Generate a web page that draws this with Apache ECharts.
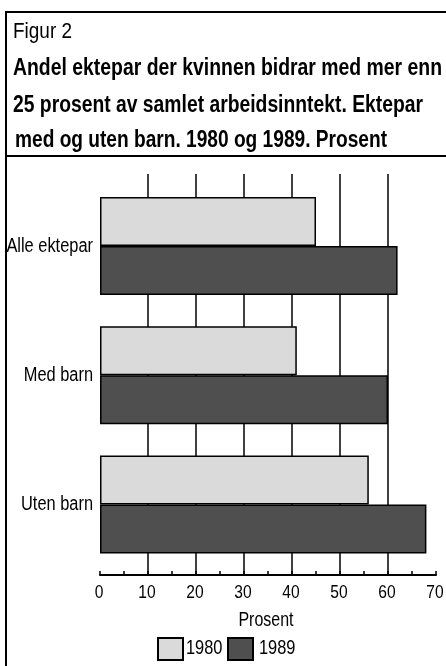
<!DOCTYPE html>
<head>
    <meta charset="utf-8">
    <title>Figur 2</title>
    <script src="https://cdn.jsdelivr.net/npm/echarts@6/dist/echarts.min.js"></script>
    <style>
        body { margin: 0; background: #fff; }
    </style>
</head>
<body>
    <div id="main" style="width: 446px;height:666px"></div>
    <script type="text/javascript">
        var categories = ['Alle ektepar', 'Med barn', 'Uten barn'];
        var years = ['1980', '1989'];
        var values1980 = [45, 41, 56];
        var values1989 = [62, 60, 68];
        var xTicks = [0, 10, 20, 30, 40, 50, 60, 70];

        // no narrow font installed, so texts are squeezed horizontally
        var font = '"Liberation Sans", Arial, sans-serif';
        var narrow = 0.82;
        var titleLines = [
            'Andel ektepar der kvinnen bidrar med mer enn',
            '25 prosent av samlet arbeidsinntekt. Ektepar',
            'med og uten barn. 1980 og 1989. Prosent'
        ];
        // x, y, target width of every title line
        var lineBox = [[13, 69, 429], [13, 106, 410], [15, 141, 372]];

        var ctx = document.createElement('canvas').getContext('2d');
        function fitScale(txt, f, w) {
            ctx.font = f;
            return w / ctx.measureText(txt).width;
        }
        function label(txt, x, y, size, align, sx) {
            var f = size + 'px ' + font;
            return {
                type: 'text', x: x, y: y, scaleX: sx || narrow,
                style: { text: txt, font: f, fill: '#000', textAlign: align, align: align,
                         textVerticalAlign: 'middle', verticalAlign: 'middle' }
            };
        }

        var myChart = echarts.init(document.getElementById('main'));
        var option = {
            backgroundColor: '#fff',
            animation: false,
            textStyle: { fontFamily: font, color: '#000' },
            legend: {
                data: years,
                left: 157,
                top: 637,
                padding: 0,
                icon: 'rect',
                itemWidth: 25,
                itemHeight: 22,
                itemGap: 43,
                formatter: function () { return ''; },
                textStyle: { fontSize: 1, padding: 0 }
            },
            grid: [
                { left: 100, right: 10, top: 174, bottom: 91, outerBoundsMode: 'none', containLabel: false },
                { left: 100, right: 10, top: 181.5, bottom: 97, outerBoundsMode: 'none', containLabel: false }
            ],
            xAxis: [
                {
                    gridIndex: 0,
                    type: 'value',
                    min: 0, max: 70, interval: 10,
                    axisLine: { show: true, lineStyle: { color: '#000', width: 2 } },
                    axisTick: { show: true, inside: true, length: 4, lineStyle: { color: '#000', width: 1.5 } },
                    minorTick: { show: true, splitNumber: 2, length: 4, lineStyle: { color: '#000', width: 1.5 } },
                    axisLabel: { show: false },
                    splitLine: { show: true, showMinLine: false, showMaxLine: false, lineStyle: { color: '#000', width: 1.5 } }
                },
                {
                    gridIndex: 1,
                    type: 'value',
                    min: 0, max: 70,
                    show: false,
                    splitLine: { show: false }
                }
            ],
            yAxis: [
                { gridIndex: 0, type: 'category', data: categories, show: false },
                {
                    gridIndex: 1,
                    type: 'category',
                    data: categories,
                    inverse: true,
                    axisLine: { show: false },
                    axisTick: { show: false },
                    axisLabel: { show: false }
                }
            ],
            series: [
                {
                    name: '1980',
                    type: 'bar',
                    xAxisIndex: 1,
                    yAxisIndex: 1,
                    barWidth: 49,
                    barGap: '0%',
                    itemStyle: { color: '#dadada', borderColor: '#000', borderWidth: 1.5 },
                    data: values1980
                },
                {
                    name: '1989',
                    type: 'bar',
                    xAxisIndex: 1,
                    yAxisIndex: 1,
                    barWidth: 49,
                    barGap: '0%',
                    itemStyle: { color: '#4f4f4f', borderColor: '#000', borderWidth: 1.5 },
                    data: values1989
                }
            ]
        };
        myChart.setOption(option);

        // frame, title and axis texts
        var graphics = [
            { type: 'line', shape: { x1: 6, y1: 12, x2: 6, y2: 666 }, style: { stroke: '#000', lineWidth: 2 } },
            { type: 'line', shape: { x1: 5, y1: 12, x2: 446, y2: 12 }, style: { stroke: '#000', lineWidth: 2 } },
            { type: 'line', shape: { x1: 5, y1: 156, x2: 446, y2: 156 }, style: { stroke: '#000', lineWidth: 2 } },
            label('Figur 2', 13, 32, 22, 'left', fitScale('Figur 2', '22px ' + font, 59))
        ];
        for (var i = 0; i < titleLines.length; i++) {
            var f = 'bold 23px ' + font;
            var t = label(titleLines[i], lineBox[i][0], lineBox[i][1], 23, 'left', fitScale(titleLines[i], f, lineBox[i][2]));
            t.style.font = f;
            graphics.push(t);
        }
        for (var c = 0; c < categories.length; c++) {
            var cy = myChart.convertToPixel({ yAxisIndex: 1 }, categories[c]);
            graphics.push(label(categories[c], 93, cy, 20, 'right'));
        }
        for (var k = 0; k < xTicks.length; k++) {
            var tx = myChart.convertToPixel({ xAxisIndex: 0 }, xTicks[k]);
            graphics.push(label(String(xTicks[k]), tx - 1, 593, 19, 'center'));
        }
        graphics.push(label('Prosent', 266, 621, 19.5, 'center'));
        graphics.push(label(years[0], 186, 648, 20, 'left'));
        graphics.push(label(years[1], 259, 648, 20, 'left'));

        myChart.setOption({ graphic: graphics });
    </script>
</body>
